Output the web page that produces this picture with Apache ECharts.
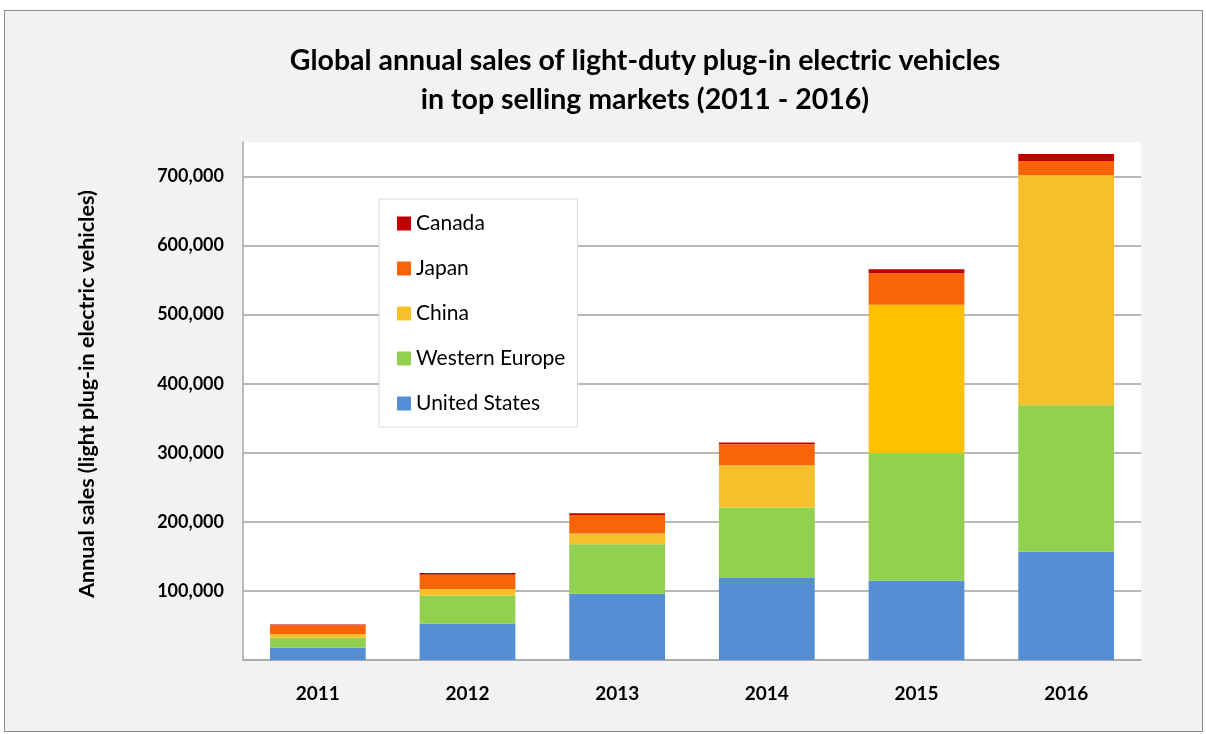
<!DOCTYPE html>
<html>
<head>
<meta charset="utf-8">
<title>Global annual sales of light-duty plug-in electric vehicles</title>
<script src="https://cdn.jsdelivr.net/npm/echarts@6/dist/echarts.min.js"></script>
<style>
  html, body { margin: 0; padding: 0; background: #ffffff; }
  .frame {
    position: absolute; left: 4px; top: 10px; width: 1199px; height: 722px;
    box-sizing: border-box; border: 1px solid #8c8c8c; background: #f2f2f2;
  }
  #chart { position: absolute; left: 0; top: 0; width: 1206px; height: 734px; }
</style>
</head>
<body>
<div class="frame"></div>
<div id="chart"></div>
<script>
// years on the x axis
const years = ["2011", "2012", "2013", "2014", "2015", "2016"];

// annual sales per market
const unitedStates = [17800, 52500, 95900, 118600, 114700, 156600];
const westernEurope = [14500, 40500, 71800, 102200, 185100, 212100];
const china = [5300, 9700, 15400, 61200, 214600, 333000];
const japan = [12600, 20700, 27000, 30400, 45700, 20800];
const canada = [1200, 2400, 2400, 2400, 5800, 10100];

const legendOrder = ["Canada", "Japan", "China", "Western Europe", "United States"];

const font = "Lato, 'Open Sans', sans-serif";

function makeSeries(name, data, color) {
  return {
    name: name,
    type: "bar",
    stack: "total",
    barWidth: "64%",
    data: data,
    itemStyle: { color: color },
  };
}

// 2015 china bar is drawn in a brighter yellow in the original
const chinaData = china.map((v, i) =>
  years[i] === "2015" ? { value: v, itemStyle: { color: "#ffc000" } } : v
);

const myChart = echarts.init(document.getElementById("chart"));
myChart.setOption({
  backgroundColor: "transparent",
  animation: false,
  textStyle: { fontFamily: font },
  title: {
    text: "Global annual sales of light-duty plug-in electric vehicles\nin top selling markets (2011 - 2016)",
    left: 640,
    top: 36,
    textAlign: "center",
    textStyle: {
      fontFamily: font,
      fontSize: 28.5,
      fontWeight: "bold",
      color: "#000",
      lineHeight: 39,
    },
  },
  legend: {
    orient: "vertical",
    left: 379,
    top: 199,
    data: legendOrder,
    itemWidth: 14,
    itemHeight: 14,
    itemGap: 24,
    padding: [14, 12, 13, 18],
    backgroundColor: "#ffffff",
    borderColor: "#d9d9d9",
    borderWidth: 1,
    icon: "rect",
    textStyle: { fontFamily: font, fontSize: 21, color: "#000", lineHeight: 21 },
  },
  grid: {
    left: 243,
    right: 65,
    top: 142,
    bottom: 74,
    show: true,
    backgroundColor: "#ffffff",
    borderWidth: 0,
  },
  xAxis: {
    type: "category",
    data: years,
    axisTick: { show: false },
    axisLine: { lineStyle: { color: "#a6a6a6", width: 1.5 } },
    axisLabel: {
      margin: 24,
      fontFamily: font,
      fontSize: 19,
      fontWeight: "bold",
      color: "#000",
    },
  },
  yAxis: {
    type: "value",
    min: 0,
    max: 750000,
    interval: 100000,
    name: "Annual sales (light plug-in electric vehicles)",
    nameLocation: "middle",
    nameGap: 145,
    nameTextStyle: {
      fontFamily: font,
      fontSize: 21.5,
      fontWeight: "bold",
      color: "#000",
      padding: [0, 0, 0, 14],
    },
    axisLine: { show: true, lineStyle: { color: "#a6a6a6", width: 1.5 } },
    axisTick: { show: false },
    splitLine: {
      lineStyle: {
        // last line (750,000 top edge) is hidden
        color: ["#a0a0a0", "#a0a0a0", "#a0a0a0", "#a0a0a0", "#a0a0a0",
                "#a0a0a0", "#a0a0a0", "#a0a0a0", "rgba(0,0,0,0)"],
        width: 1.5,
      },
    },
    axisLabel: {
      margin: 19,
      fontFamily: font,
      fontSize: 18,
      fontWeight: "bold",
      color: "#000",
      formatter: function (v) {
        if (v === 0 || v % 100000 !== 0) return "";
        return v.toLocaleString("en-US");
      },
    },
  },
  series: [
    makeSeries("United States", unitedStates, "#558ed5"),
    makeSeries("Western Europe", westernEurope, "#92d050"),
    makeSeries("China", chinaData, "#f5c02c"),
    makeSeries("Japan", japan, "#f86408"),
    makeSeries("Canada", canada, "#c00000"),
  ],
});
</script>
</body>
</html>
